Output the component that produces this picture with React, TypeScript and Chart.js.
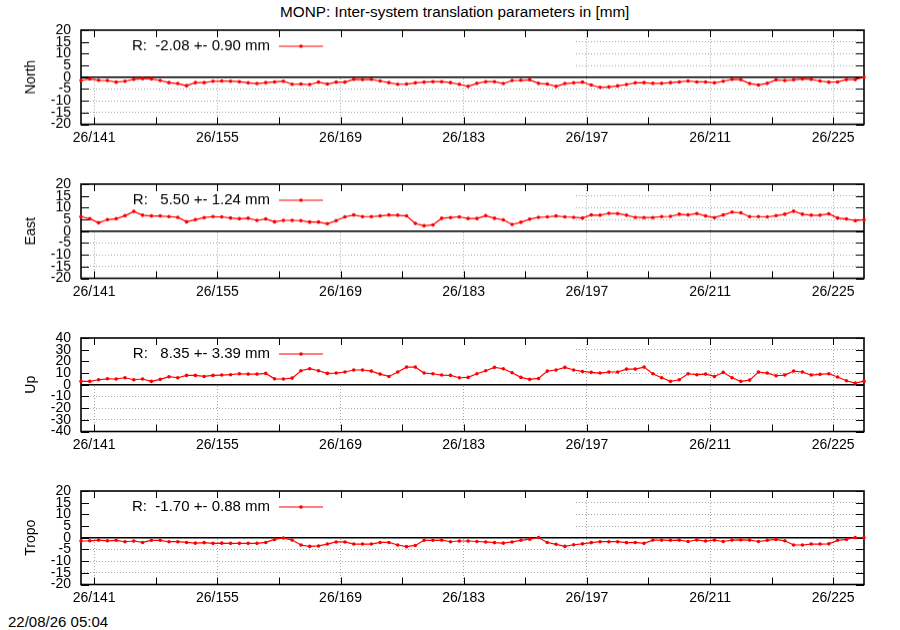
import { useEffect, useRef } from "react";
import Chart from "chart.js/auto";

Chart.defaults.font.family = "'Liberation Sans', Arial, sans-serif";
Chart.defaults.font.size = 14;
Chart.defaults.color = "#000";

const TITLE = "MONP: Inter-system translation parameters in [mm]";
const STAMP = "22/08/26 05:04";

// day of year (noon) for each daily solution
const DAYS = [
  139.5, 140.5, 141.5, 142.5, 143.5, 144.5, 145.5, 146.5, 147.5, 148.5,
  149.5, 150.5, 151.5, 152.5, 153.5, 154.5, 155.5, 156.5, 157.5, 158.5,
  159.5, 160.5, 161.5, 162.5, 163.5, 164.5, 165.5, 166.5, 167.5, 168.5,
  169.5, 170.5, 171.5, 172.5, 173.5, 174.5, 175.5, 176.5, 177.5, 178.5,
  179.5, 180.5, 181.5, 182.5, 183.5, 184.5, 185.5, 186.5, 187.5, 188.5,
  189.5, 190.5, 191.5, 192.5, 193.5, 194.5, 195.5, 196.5, 197.5, 198.5,
  199.5, 200.5, 201.5, 202.5, 203.5, 204.5, 205.5, 206.5, 207.5, 208.5,
  209.5, 210.5, 211.5, 212.5, 213.5, 214.5, 215.5, 216.5, 217.5, 218.5,
  219.5, 220.5, 221.5, 222.5, 223.5, 224.5, 225.5, 226.5, 227.5, 228.5,
];

const NORTH = [
  -1.4, -0.7, -1.3, -1.4, -2.1, -1.7, -0.9, -0.6, -0.7, -1.4,
  -2.3, -2.7, -3.6, -2.3, -2.3, -1.7, -1.6, -1.7, -1.9, -2.4,
  -2.7, -2.3, -2.0, -1.7, -3.0, -2.9, -3.1, -2.1, -2.9, -2.1,
  -2.1, -0.9, -1.0, -0.9, -1.6, -2.3, -3.0, -2.9, -2.4, -2.1,
  -1.9, -1.9, -2.3, -3.0, -3.9, -2.6, -1.9, -1.9, -2.7, -1.4,
  -1.3, -1.1, -2.6, -2.9, -3.9, -2.7, -2.4, -2.1, -3.3, -4.3,
  -4.1, -3.7, -3.1, -2.4, -2.3, -2.6, -2.6, -2.3, -2.0, -1.6,
  -2.0, -2.0, -2.4, -1.7, -0.9, -1.0, -2.7, -3.3, -2.6, -1.1,
  -1.4, -1.1, -0.7, -0.9, -1.6, -2.1, -2.0, -1.0, -1.0, 0.0,
];

const EAST = [
  6.2, 5.3, 3.6, 4.9, 5.3, 6.6, 8.4, 6.8, 6.5, 6.5,
  6.2, 5.9, 4.0, 4.9, 5.8, 6.2, 6.1, 5.6, 5.3, 5.5,
  4.6, 5.2, 4.0, 4.6, 4.6, 4.5, 3.9, 3.9, 3.2, 4.5,
  6.1, 6.9, 6.2, 6.2, 6.5, 6.9, 6.8, 6.5, 3.3, 2.3,
  2.7, 5.5, 5.8, 6.1, 5.4, 5.4, 6.6, 5.5, 4.8, 2.9,
  3.8, 5.1, 5.9, 6.1, 6.5, 6.1, 5.9, 5.6, 6.9, 6.8,
  7.6, 7.5, 6.8, 5.9, 5.8, 5.8, 6.2, 6.3, 7.2, 6.9,
  7.5, 6.5, 5.8, 6.9, 8.1, 7.8, 6.2, 6.2, 6.1, 6.6,
  7.2, 8.5, 7.2, 6.8, 6.8, 7.4, 5.6, 5.2, 4.5, 4.9,
];

const UP = [
  2.9, 2.9, 4.3, 5.1, 4.9, 6.0, 4.3, 4.9, 2.9, 4.6,
  6.9, 6.0, 8.0, 8.0, 7.1, 8.0, 8.3, 8.6, 9.4, 9.1,
  9.1, 9.7, 5.1, 4.9, 5.7, 12.0, 13.7, 12.0, 9.7, 10.0,
  10.9, 12.6, 12.6, 11.7, 9.1, 7.1, 10.9, 15.1, 15.1, 10.0,
  9.4, 8.3, 8.0, 6.0, 6.3, 9.4, 12.0, 14.9, 13.7, 10.3,
  6.3, 4.6, 5.4, 11.7, 12.6, 14.9, 12.6, 11.4, 10.6, 10.0,
  10.9, 10.9, 13.4, 13.4, 15.1, 9.4, 6.0, 2.9, 4.3, 9.4,
  8.6, 9.1, 7.1, 10.6, 6.0, 2.9, 4.0, 10.9, 10.0, 7.7,
  8.3, 11.7, 10.9, 8.3, 8.9, 9.4, 6.6, 3.4, 1.4, 3.1,
];

const TROPO = [
  -1.4, -1.3, -1.0, -1.3, -1.1, -1.7, -1.4, -2.0, -1.1, -1.1,
  -1.7, -1.7, -2.0, -2.3, -2.1, -2.4, -2.3, -2.4, -2.4, -2.4,
  -2.4, -2.0, -0.7, -0.1, -1.0, -3.1, -3.7, -3.5, -2.7, -1.8,
  -1.8, -2.7, -2.7, -2.7, -2.0, -2.0, -3.1, -3.8, -3.3, -1.1,
  -1.1, -1.0, -1.7, -1.4, -1.4, -1.6, -1.8, -2.1, -2.3, -1.8,
  -1.1, -0.6, 0.1, -2.0, -2.8, -3.7, -3.0, -2.6, -2.1, -1.7,
  -1.7, -1.7, -2.1, -2.0, -2.4, -1.0, -1.0, -1.1, -1.0, -1.6,
  -0.9, -1.4, -1.0, -1.6, -1.0, -0.9, -1.0, -1.6, -1.1, -0.7,
  -1.3, -3.1, -3.1, -2.7, -2.7, -2.6, -1.1, -0.7, 0.1, 0.0,
];

const PANEL_NAMES = ["North", "East", "Up", "Tropo"];
const KEY_TEXTS = [
  "R:  -2.08 +- 0.90 mm",
  "R:   5.50 +- 1.24 mm",
  "R:   8.35 +- 3.39 mm",
  "R:  -1.70 +- 0.88 mm",
];
const Y_LIMITS = [20, 20, 40, 20];
const Y_STEPS = [5, 5, 10, 5];
const X_TICKS = [141, 148, 155, 162, 169, 176, 183, 190, 197, 204, 211, 218, 225];
const X_LABELED = [141, 155, 169, 183, 197, 211, 225];

const PLOT_TOPS = [30, 184, 337.5, 490.5];
const PLOT_H = 93.5;
const PAD_TOP = 12;
const X_AXIS_H = 28;

type PanelProps = {
  name: string;
  values: number[];
  limit: number;
  step: number;
  keyText: string;
  top: number;
};

function Panel({ name, values, limit, step, keyText, top }: PanelProps) {
  const canvasRef = useRef<HTMLCanvasElement>(null);
  const chartRef = useRef<Chart | null>(null);

  useEffect(() => {
    if (!canvasRef.current) return;
    const ctx = canvasRef.current.getContext("2d");
    if (!ctx) return;
    if (chartRef.current) chartRef.current.destroy();

    // gnuplot-like frame: opaque key box, inward ticks, zero axis, border, key
    const frame = {
      id: "gnuFrame",
      beforeDatasetsDraw(chart: any) {
        const { ctx: c, chartArea: a, scales } = chart;
        const xs = scales.x;
        const ys = scales.y;
        const y0 = ys.getPixelForValue(0);
        c.save();
        c.fillStyle = "#fff";
        c.fillRect(a.left, a.top, 493, y0 - a.top);

        c.strokeStyle = "#000";
        c.lineWidth = 1;
        c.beginPath();
        xs.ticks.forEach((t: any) => {
          const px = Math.round(xs.getPixelForValue(t.value)) + 0.5;
          c.moveTo(px, a.top);
          c.lineTo(px, a.top + 7);
          c.moveTo(px, a.bottom);
          c.lineTo(px, a.bottom - 7);
        });
        ys.ticks.forEach((t: any) => {
          const py = Math.round(ys.getPixelForValue(t.value)) + 0.5;
          c.moveTo(a.left, py);
          c.lineTo(a.left + 8, py);
          c.moveTo(a.right, py);
          c.lineTo(a.right - 8, py);
        });
        c.stroke();

        c.lineWidth = 1.3;
        c.beginPath();
        c.moveTo(a.left, y0);
        c.lineTo(a.right, y0);
        c.stroke();

        c.lineWidth = 1.6;
        c.strokeRect(a.left, a.top, a.right - a.left, a.bottom - a.top);

        const ky = a.top + 16;
        c.fillStyle = "#000";
        c.font = "15px 'Liberation Sans', Arial, sans-serif";
        c.textAlign = "right";
        c.textBaseline = "middle";
        c.fillText(chart.data.datasets[0].label, a.left + 189, ky);
        c.strokeStyle = "#ff0000";
        c.lineWidth = 1.2;
        c.beginPath();
        c.moveTo(a.left + 198, ky);
        c.lineTo(a.left + 242, ky);
        c.stroke();
        c.fillStyle = "#ff0000";
        c.beginPath();
        c.arc(a.left + 220, ky, 1.8, 0, Math.PI * 2);
        c.fill();
        c.restore();
      },
    };

    chartRef.current = new Chart(ctx, {
      type: "line",
      data: {
        datasets: [
          {
            label: keyText,
            data: DAYS.map((d, i) => ({ x: d, y: values[i] })),
            borderColor: "#ff0000",
            backgroundColor: "#ff0000",
            borderWidth: 1.2,
            pointRadius: 1.8,
            pointHoverRadius: 1.8,
            pointBorderWidth: 0,
            tension: 0,
            clip: 3,
          },
        ],
      },
      options: {
        animation: false,
        responsive: true,
        maintainAspectRatio: false,
        events: [],
        layout: { padding: { top: PAD_TOP, right: 36, bottom: 0, left: 0 } },
        plugins: {
          legend: { display: false },
          tooltip: { enabled: false },
        },
        scales: {
          x: {
            type: "linear",
            min: 139.5,
            max: 228.5,
            afterBuildTicks: (s: any) => {
              s.ticks = X_TICKS.map((v) => ({ value: v }));
            },
            afterFit: (s: any) => {
              s.height = X_AXIS_H;
              s.paddingLeft = 0;
              s.paddingRight = 0;
            },
            ticks: {
              autoSkip: false,
              maxRotation: 0,
              padding: 5,
              color: "#000",
              callback: (v: any) => (X_LABELED.includes(v) ? `26/${v}` : ""),
            },
            grid: {
              drawTicks: false,
              lineWidth: 1,
              color: (c: any) =>
                c.tick && X_LABELED.includes(c.tick.value) ? "#a8a8a8" : "rgba(0,0,0,0)",
            },
            border: { display: false, dash: [1, 2] },
          },
          y: {
            min: -limit,
            max: limit,
            afterFit: (s: any) => {
              s.width = 81;
              s.paddingTop = 0;
              s.paddingBottom = 0;
            },
            ticks: { stepSize: step, autoSkip: false, padding: 10, color: "#000" },
            grid: { drawTicks: false, lineWidth: 1, color: "#a8a8a8" },
            border: { display: false, dash: [1, 2] },
            title: {
              display: true,
              text: name,
              color: "#000",
              padding: { top: 22.6, bottom: 0 },
            },
          },
        },
      },
      plugins: [frame],
    });

    return () => {
      if (chartRef.current) {
        chartRef.current.destroy();
        chartRef.current = null;
      }
    };
  }, [name, values, limit, step, keyText]);

  return (
    <div
      style={{
        position: "absolute",
        left: 0,
        top: top - PAD_TOP,
        width: 900,
        height: PLOT_H + PAD_TOP + X_AXIS_H,
      }}
    >
      <canvas ref={canvasRef} />
    </div>
  );
}

export default function App() {
  const series = [NORTH, EAST, UP, TROPO];
  const font = "'Liberation Sans', Arial, sans-serif";
  return (
    <div
      style={{
        position: "absolute",
        left: 0,
        top: 0,
        width: 900,
        height: 630,
        background: "#fff",
        fontFamily: font,
        overflow: "hidden",
      }}
    >
      <div
        style={{
          position: "absolute",
          left: 280,
          top: 3,
          fontSize: 15.3,
          lineHeight: "18px",
          whiteSpace: "nowrap",
          color: "#000",
        }}
      >
        {TITLE}
      </div>
      {PANEL_NAMES.map((name, i) => (
        <Panel
          key={name}
          name={name}
          values={series[i]}
          limit={Y_LIMITS[i]}
          step={Y_STEPS[i]}
          keyText={KEY_TEXTS[i]}
          top={PLOT_TOPS[i]}
        />
      ))}
      <div
        style={{
          position: "absolute",
          left: 8,
          top: 612.5,
          fontSize: 15,
          lineHeight: "18px",
          whiteSpace: "nowrap",
          color: "#000",
        }}
      >
        {STAMP}
      </div>
    </div>
  );
}
